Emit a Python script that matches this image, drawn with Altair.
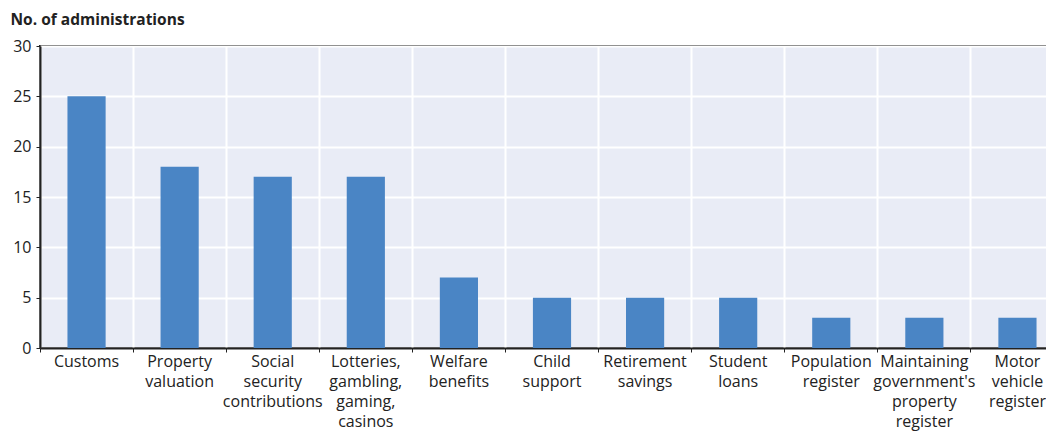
import altair as alt
import pandas as pd

categories = [
    "Customs", "Property|valuation", "Social|security|contributions",
    "Lotteries,|gambling,|gaming,|casinos", "Welfare|benefits", "Child|support",
    "Retirement|savings", "Student|loans", "Population|register",
    "Maintaining|government's|property|register", "Motor|vehicle|register",
]
values = [25, 18, 17, 17, 7, 5, 5, 5, 3, 3, 3]

df = pd.DataFrame({"cat": categories, "val": values})

FONT = "Open Sans"

chart = alt.Chart(df).mark_bar(color="#4a85c5", width=alt.RelativeBandSize(0.41)).encode(
    x=alt.X(
        "cat:N", sort=None, title=None,
        scale=alt.Scale(paddingInner=0, paddingOuter=0),
        axis=alt.Axis(
            labelExpr="split(datum.label, '|')", labelAngle=0, labelAlign="center",
            labelBaseline="top", labelFontSize=16, labelColor="#222222", labelFont=FONT,
            labelLimit=300, labelPadding=1, labelLineHeight=20,
            grid=True, gridColor="white", gridWidth=2, bandPosition=0,
            ticks=True, tickSize=4, tickColor="#222222", tickWidth=1,
            domain=True, domainColor="#222222", domainWidth=2,
        ),
    ),
    y=alt.Y(
        "val:Q", title="No. of administrations",
        scale=alt.Scale(domain=[0, 30]),
        axis=alt.Axis(
            values=[0, 5, 10, 15, 20, 25, 30], labelFontSize=16, labelColor="#222222",
            labelFont=FONT, labelPadding=5,
            grid=True, gridColor="white", gridWidth=2,
            ticks=True, tickSize=4, tickColor="#222222",
            domain=True, domainColor="#222222", domainWidth=2,
            titleAngle=0, titleAlign="left", titleBaseline="alphabetic", titleX=-30, titleY=-22,
            titleFontSize=15.5, titleFontWeight="bold", titleFont=FONT, titleColor="#222222",
        ),
    ),
).properties(
    width=1024, height=302,
    autosize=alt.AutoSizeParams(type="none"),
    padding={"left": 32, "top": 38, "right": -18, "bottom": 83},
).configure_view(
    fill="#e9ecf6", stroke="#222222", strokeWidth=2
)

chart.save("out.html", embed_options={"renderer": "svg", "actions": False})
